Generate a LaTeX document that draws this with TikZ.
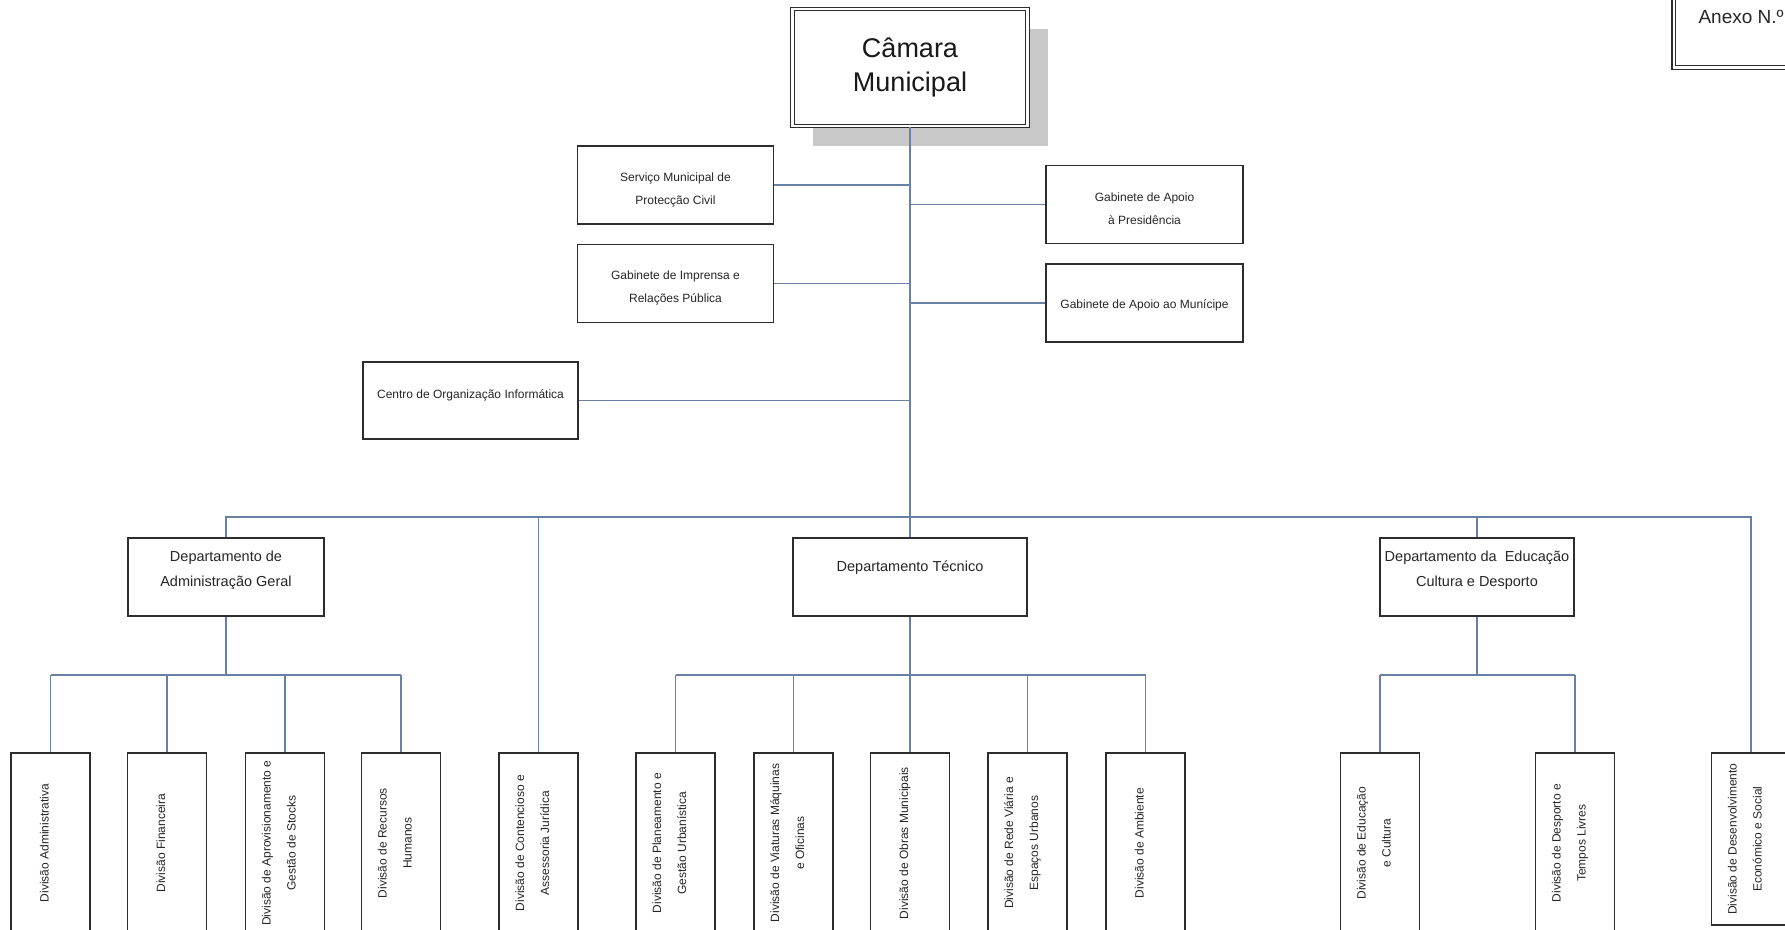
\documentclass[tikz,border=0pt]{standalone}
\usepackage{fontspec}
\setmainfont{Liberation Sans}
\usepackage{graphicx}
\usepackage{xcolor}
\usepackage{tikz}
\usetikzlibrary{calc}
\usetikzlibrary{shadows}
\definecolor{linkBlue}{RGB}{104,128,163}
\definecolor{boxGray}{RGB}{45,45,45}
\definecolor{shadeGray}{RGB}{200,200,200}
\newcommand{\vtext}[1]{\rotatebox{90}{\begin{tabular}{@{}c@{}}#1\end{tabular}}\hspace{14pt}}

\begin{document}
\begin{tikzpicture}[x=1pt, y=-1pt,
		unit/.style={draw=boxGray, line width=1.6pt, fill=white, inner sep=0pt, align=center, text=black!85},
		office/.style={unit, minimum width=196pt, minimum height=78pt, font=\fontsize{12}{23}\selectfont},
		office2/.style={office, text height=41pt},
		dept/.style={unit, minimum width=196pt, minimum height=78pt, text depth=17pt, font=\fontsize{14.5}{25}\selectfont},
		division/.style={unit, minimum width=79pt, minimum height=180pt, font=\fontsize{12}{25}\selectfont},
		framed/.style={unit, double=white, double distance=2.2pt, line width=1.2pt},
		link/.style={draw=linkBlue, line width=1.8pt}]
		\useasboundingbox (0,0) rectangle (1785,929);

		\node (camara) [framed, minimum width=235pt, minimum height=117pt, font=\fontsize{27}{34}\selectfont, text=black!90,
			drop shadow={shadow xshift=20pt, shadow yshift=-20pt, fill=shadeGray, opacity=1}] at (910,67.5) {Câmara\\Municipal};
		\node (anexo) [framed, anchor=south west, minimum width=180pt, minimum height=110pt] at (1673,68) {};
		\node (anexo text) [anchor=base west, font=\fontsize{19}{19}\selectfont, text=black!85] at (1695,23) {Anexo N.º};

		\node (serv) [office2] at (675.5,185) {Serviço Municipal de\\Protecção Civil};
		\node (impr) [office2] at (675.5,283.5) {Gabinete de Imprensa e\\Relações Pública};
		\node (gpres) [office2, minimum width=197pt] at (1144.5,204.5) {Gabinete de Apoio\\à Presidência};
		\node (gmun) [office, minimum width=197pt, text height=14pt] at (1144.5,303) {Gabinete de Apoio ao Munícipe};
		\node (coi) [office, minimum width=215pt, minimum height=77pt, text depth=12pt] at (470.5,400.5) {Centro de Organização Informática};

		\node (dag) [dept] at (226,577) {Departamento de\\Administração Geral};
		\node (dtec) [dept, minimum width=234pt, text depth=21pt] at (910,577) {Departamento Técnico};
		\node (dec) [dept, minimum width=194pt] at (1477,577) {Departamento da\ \ Educação\\Cultura e Desporto};

		\node (dadm) [division] at (50.5,843) {\vtext{Divisão Administrativa}};
		\node (dfin) [division] at (167,843) {\vtext{Divisão Financeira}};
		\node (dapr) [division] at (285,843) {\vtext{Divisão de Aprovisionamento e\\Gestão de Stocks}};
		\node (drhu) [division] at (401,843) {\vtext{Divisão de Recursos\\Humanos}};
		\node (dcaj) [division] at (538.5,843) {\vtext{Divisão de Contencioso e\\Assessoria Jurídica}};
		\node (dpgu) [division] at (675.5,843) {\vtext{Divisão de Planeamento e\\Gestão Urbanística}};
		\node (dvmo) [division] at (793.5,843) {\vtext{Divisão de Viaturas Máquinas\\e Oficinas}};
		\node (dobm) [division] at (910,843) {\vtext{Divisão de Obras Municipais}};
		\node (drve) [division] at (1027.5,843) {\vtext{Divisão de Rede Viária e\\Espaços Urbanos}};
		\node (damb) [division] at (1145.5,843) {\vtext{Divisão de Ambiente}};
		\node (dedu) [division] at (1380,843) {\vtext{Divisão de Educação\\e Cultura}};
		\node (ddtl) [division] at (1575,843) {\vtext{Divisão de Desporto e\\Tempos Livres}};
		\node (ddes) [division, minimum height=172pt] at (1751,839) {\vtext{Divisão de Desenvolvimento\\Económico e Social}};

		\coordinate (bus) at (910,517);
		\coordinate (sub) at (0,675);
		\draw[link] (camara.south) -- (dtec.north);
		\foreach \o in {serv,impr,gpres,gmun,coi}
			\draw[link] (\o) -- (\o -| camara.south);
		\draw[link] (dag.north) -- (dag.north |- bus) -- (ddes.north |- bus) -- (ddes.north);
		\foreach \d in {dcaj,dec}
			\draw[link] (\d.north) -- (\d.north |- bus);

		\draw[link] (dag.south) -- (dag.south |- sub);
		\draw[link] (dadm.north |- sub) -- (drhu.north |- sub);
		\foreach \d in {dadm,dfin,dapr,drhu}
			\draw[link] (\d.north) -- (\d.north |- sub);
		\draw[link] (dtec.south) -- (dtec.south |- sub);
		\draw[link] (dpgu.north |- sub) -- (damb.north |- sub);
		\foreach \d in {dpgu,dvmo,dobm,drve,damb}
			\draw[link] (\d.north) -- (\d.north |- sub);
		\draw[link] (dec.south) -- (dec.south |- sub);
		\draw[link] (dedu.north |- sub) -- (ddtl.north |- sub);
		\foreach \d in {dedu,ddtl}
			\draw[link] (\d.north) -- (\d.north |- sub);
\end{tikzpicture}
\end{document}
